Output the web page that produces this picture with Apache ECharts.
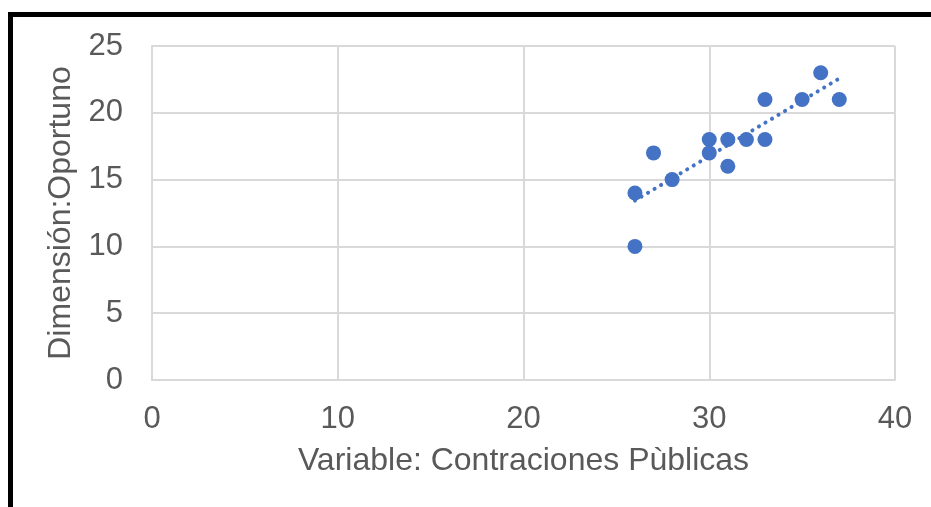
<!DOCTYPE html>
<html>
<head>
<meta charset="utf-8">
<script src="https://cdn.jsdelivr.net/npm/echarts@6/dist/echarts.min.js"></script>
<style>
  html, body { margin: 0; padding: 0; background: #fff; }
  #chart { width: 931px; height: 507px; }
</style>
</head>
<body>
<div id="chart"></div>
<script>
// Variable: Contraciones Pùblicas (x) vs Dimensión: Oportuno (y)
const xValues = [26, 26, 27, 28, 30, 30, 31, 31, 32, 33, 33, 35, 36, 37]
const yValues = [14, 10, 17, 15, 18, 17, 18, 16, 18, 21, 18, 21, 23, 21]
const xTicks = [0, 10, 20, 30, 40]
const yTicks = [0, 5, 10, 15, 20, 25]

const points = xValues.map((x, i) => [x, yValues[i]])

// linear trendline (least squares), like the Excel one
const n = xValues.length
const mx = xValues.reduce((a, b) => a + b, 0) / n
const my = yValues.reduce((a, b) => a + b, 0) / n
let sxy = 0
let sxx = 0
xValues.forEach((x, i) => {
  sxy += (x - mx) * (yValues[i] - my)
  sxx += (x - mx) * (x - mx)
})
const slope = sxy / sxx
const icpt = my - slope * mx
const xMin = Math.min(...xValues)
const xMax = Math.max(...xValues)
const trend = [[xMin, icpt + slope * xMin], [xMax, icpt + slope * xMax]]

const textColor = '#595959'
const gridColor = '#d9d9d9'
const font = 'Liberation Sans, Arial, sans-serif'

const chart = echarts.init(document.getElementById('chart'))
chart.setOption({
  animation: false,
  grid: { left: 152, top: 46, right: 36, bottom: 127 },
  graphic: [
    {
      type: 'polyline',
      shape: { points: [[10.5, 507], [10.5, 14.5], [931, 14.5]] },
      style: { stroke: '#000', lineWidth: 5, fill: null },
    },
  ],
  xAxis: {
    type: 'value',
    min: xTicks[0],
    max: xTicks[xTicks.length - 1],
    interval: 10,
    name: 'Variable: Contraciones Pùblicas',
    nameLocation: 'middle',
    nameGap: 65,
    nameTextStyle: { color: textColor, fontSize: 32, fontFamily: font },
    axisLine: { show: true, lineStyle: { color: gridColor, width: 2 } },
    axisTick: { show: false },
    axisLabel: { color: textColor, fontSize: 31, fontFamily: font, margin: 24 },
    splitLine: { show: true, lineStyle: { color: gridColor, width: 2 } },
  },
  yAxis: {
    type: 'value',
    min: yTicks[0],
    max: yTicks[yTicks.length - 1],
    interval: 5,
    name: 'Dimensión:Oportuno',
    nameLocation: 'middle',
    nameGap: 72,
    nameTextStyle: { color: textColor, fontSize: 32, fontFamily: font },
    axisLine: { show: true, lineStyle: { color: gridColor, width: 2 } },
    axisTick: { show: false },
    axisLabel: { color: textColor, fontSize: 31, fontFamily: font, margin: 29 },
    splitLine: { show: true, lineStyle: { color: gridColor, width: 2 } },
  },
  series: [
    {
      type: 'line',
      data: trend,
      symbol: 'none',
      z: 3,
      lineStyle: { color: '#4472c4', width: 4, type: [0.1, 7.5], cap: 'round' },
    },
    {
      type: 'scatter',
      data: points,
      symbol: 'circle',
      symbolSize: 15,
      z: 2,
      itemStyle: { color: '#4472c4', opacity: 1 },
    },
  ],
})
</script>
</body>
</html>
